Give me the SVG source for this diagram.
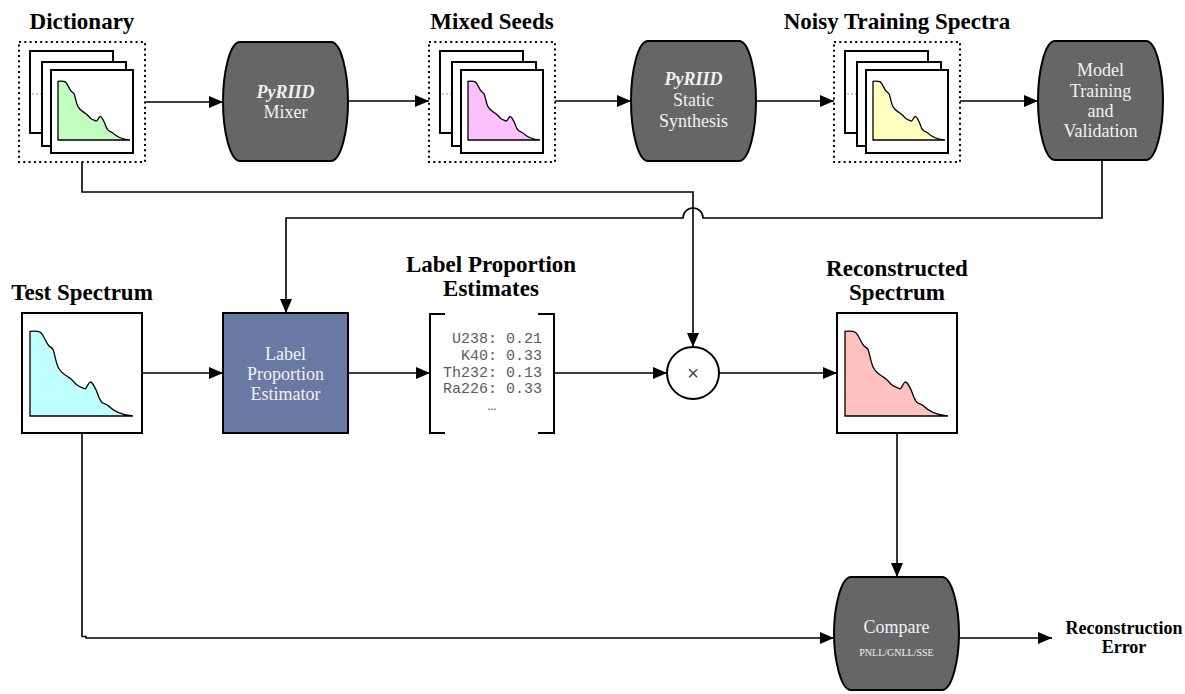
<svg xmlns="http://www.w3.org/2000/svg" width="1185" height="694" viewBox="0 0 1185 694">
  <style>
    .title { font-family: "Liberation Serif", serif; font-weight: bold; font-size: 23px; fill: #000; text-anchor: middle; }
    .out { font-family: "Liberation Serif", serif; font-weight: bold; font-size: 18px; fill: #000; text-anchor: middle; }
    .lbl { font-family: "Liberation Serif", serif; font-size: 18px; fill: #f2f2f2; text-anchor: middle; }
    .lbl-b { font-family: "Liberation Serif", serif; font-size: 18px; font-weight: bold; font-style: italic; fill: #f2f2f2; text-anchor: middle; }
    .small { font-family: "Liberation Serif", serif; font-size: 10px; fill: #f2f2f2; text-anchor: middle; }
    .mono { font-family: "Liberation Mono", monospace; font-size: 15px; fill: #5c5c5c; text-anchor: end; }
    .proc { fill: #666666; stroke: #000; stroke-width: 2; }
    .card { fill: #fff; stroke: #000; stroke-width: 2; }
    .group { fill: none; stroke: #000; stroke-width: 2; stroke-dasharray: 2 3.3; }
    .hint { stroke: #999; stroke-width: 1; stroke-dasharray: 2 2; }
    .plot { stroke: #000; stroke-width: 1.3; }
    .wire { fill: none; stroke: #000; stroke-width: 1.6; }
  </style>
  <defs>
    <marker id="arrow" markerWidth="14" markerHeight="12" refX="14" refY="6" orient="auto" markerUnits="userSpaceOnUse">
      <path d="M0,0 L14,6 L0,12 Z" fill="#000"/>
    </marker>
    <!-- spectrum outline in a 100x100 box, scaled per use -->
    <path id="spec" vector-effect="non-scaling-stroke" d="M0,100 L0,0.5 C3,0 7,-0.5 10,1.5 C13,4 15,12 17.5,16 C19,19 21,19 22.5,22 C24,27 25,37 27.5,43 C30,49 33,51 37,54 C40,56 42,59 45,63 C48,66 50,66 53,68 C55,69 56,61 58.5,60 C61,60 62,65 64,69 C66,74 67,81 70,84 C72,86 74,85.5 76,88 C80,93 88,99 100,100 Z"/>
  </defs>

  <!-- connectors -->
  <g id="connectors" class="wire">
    <path d="M145,102 H223" marker-end="url(#arrow)"/>
    <path d="M348,101 H429" marker-end="url(#arrow)"/>
    <path d="M555,101 H631" marker-end="url(#arrow)"/>
    <path d="M756,101 H834" marker-end="url(#arrow)"/>
    <path d="M960,101 H1038" marker-end="url(#arrow)"/>
    <path d="M82,162 V192 H693 V347" marker-end="url(#arrow)"/>
    <path d="M1102,160 V218 H703 A10,10 0 0 0 683,218 H286 V313" marker-end="url(#arrow)"/>
    <path d="M142,373 H223" marker-end="url(#arrow)"/>
    <path d="M348,373 H430" marker-end="url(#arrow)"/>
    <path d="M554,373 H667" marker-end="url(#arrow)"/>
    <path d="M719,373 H837" marker-end="url(#arrow)"/>
    <path d="M897,433 V577" marker-end="url(#arrow)"/>
    <path d="M82,433 V636.5 H86 V638 H834" marker-end="url(#arrow)"/>
    <path d="M959,638 H1052" marker-end="url(#arrow)"/>
  </g>

  <!-- Dictionary stack -->
  <g id="dictionary">
    <text class="title" x="82" y="29">Dictionary</text>
    <g transform="translate(19,0)">
      <rect class="group" x="0" y="42" width="126" height="120"/>
      <rect class="card" x="11" y="51" width="83" height="82"/>
      <line class="hint" x1="13" y1="94" x2="23" y2="94"/>
      <rect class="card" x="23" y="62" width="84" height="84"/>
      <rect class="card" x="32" y="70" width="82" height="83"/>
      <use href="#spec" class="plot" fill="#c0ffc0" transform="translate(39,81) scale(0.72,0.59)"/>
    </g>
  </g>

  <!-- PyRIID Mixer -->
  <g id="mixer">
    <path class="proc" d="M240,42 H331 C341,42 348,72 348,101.5 C348,131 341,161 331,161 H240 C230,161 223,131 223,101.5 C223,72 230,42 240,42 Z"/>
    <text class="lbl-b" x="285.5" y="98">PyRIID</text>
    <text class="lbl" x="285.5" y="118">Mixer</text>
  </g>

  <!-- Mixed Seeds stack -->
  <g id="mixed-seeds">
    <text class="title" x="492" y="29">Mixed Seeds</text>
    <g transform="translate(429,0)">
      <rect class="group" x="0" y="42" width="126" height="120"/>
      <rect class="card" x="11" y="51" width="83" height="82"/>
      <line class="hint" x1="13" y1="94" x2="23" y2="94"/>
      <rect class="card" x="23" y="62" width="84" height="84"/>
      <rect class="card" x="32" y="70" width="82" height="83"/>
      <use href="#spec" class="plot" fill="#ffc0ff" transform="translate(39,81) scale(0.72,0.59)"/>
    </g>
  </g>

  <!-- PyRIID Static Synthesis -->
  <g id="static-synthesis">
    <path class="proc" d="M648,41 H739 C749,41 756,71 756,101 C756,131 749,161 739,161 H648 C638,161 631,131 631,101 C631,71 638,41 648,41 Z"/>
    <text class="lbl-b" x="693.5" y="85">PyRIID</text>
    <text class="lbl" x="693.5" y="106">Static</text>
    <text class="lbl" x="693.5" y="127">Synthesis</text>
  </g>

  <!-- Noisy Training Spectra stack -->
  <g id="noisy-training">
    <text class="title" x="897" y="29">Noisy Training Spectra</text>
    <g transform="translate(834,0)">
      <rect class="group" x="0" y="42" width="126" height="120"/>
      <rect class="card" x="11" y="51" width="83" height="82"/>
      <line class="hint" x1="13" y1="94" x2="23" y2="94"/>
      <rect class="card" x="23" y="62" width="84" height="84"/>
      <rect class="card" x="32" y="70" width="82" height="83"/>
      <use href="#spec" class="plot" fill="#ffffc0" transform="translate(39,81) scale(0.72,0.59)"/>
    </g>
  </g>

  <!-- Model Training and Validation -->
  <g id="model-training">
    <path class="proc" d="M1055,41 H1146 C1156,41 1163,71 1163,100.5 C1163,130 1156,160 1146,160 H1055 C1045,160 1038,130 1038,100.5 C1038,71 1045,41 1055,41 Z"/>
    <text class="lbl" x="1100.5" y="76">Model</text>
    <text class="lbl" x="1100.5" y="97">Training</text>
    <text class="lbl" x="1100.5" y="117">and</text>
    <text class="lbl" x="1100.5" y="137">Validation</text>
  </g>

  <!-- Test Spectrum -->
  <g id="test-spectrum">
    <text class="title" x="82" y="300">Test Spectrum</text>
    <rect class="card" x="22" y="313" width="120" height="120"/>
    <use href="#spec" class="plot" fill="#c0ffff" transform="translate(30,331) scale(1.03,0.85)"/>
  </g>

  <!-- Label Proportion Estimator -->
  <g id="estimator">
    <rect x="223" y="313" width="125" height="120" fill="#6979a3" stroke="#000" stroke-width="2"/>
    <text class="lbl" x="285.5" y="360">Label</text>
    <text class="lbl" x="285.5" y="380">Proportion</text>
    <text class="lbl" x="285.5" y="400">Estimator</text>
  </g>

  <!-- Label Proportion Estimates -->
  <g id="estimates">
    <text class="title" x="491" y="272">Label Proportion</text>
    <text class="title" x="491" y="296">Estimates</text>
    <path d="M445,314 H430 V433 H445 M538,314 H554 V433 H538" fill="none" stroke="#000" stroke-width="2"/>
    <text class="mono" x="542" y="343">U238: 0.21</text>
    <text class="mono" x="542" y="360">K40: 0.33</text>
    <text class="mono" x="542" y="377">Th232: 0.13</text>
    <text class="mono" x="542" y="393">Ra226: 0.33</text>
    <text class="mono" x="492" y="410" style="text-anchor: middle">…</text>
  </g>

  <!-- Multiply -->
  <g id="multiply">
    <circle cx="693" cy="373" r="26" fill="#fff" stroke="#000" stroke-width="2"/>
    <text x="693" y="380" font-family="Liberation Sans, sans-serif" font-size="20" fill="#444" text-anchor="middle">×</text>
  </g>

  <!-- Reconstructed Spectrum -->
  <g id="reconstructed">
    <text class="title" x="897" y="276">Reconstructed</text>
    <text class="title" x="897" y="300">Spectrum</text>
    <rect class="card" x="837" y="313" width="120" height="120"/>
    <use href="#spec" class="plot" fill="#ffc0c0" transform="translate(845,331) scale(1.03,0.85)"/>
  </g>

  <!-- Compare -->
  <g id="compare">
    <path class="proc" d="M851,577 H942 C952,577 959,607 959,633.5 C959,660 952,690 942,690 H851 C841,690 834,660 834,633.5 C834,607 841,577 851,577 Z"/>
    <text class="lbl" x="896.5" y="633">Compare</text>
    <text class="small" x="896.5" y="656">PNLL/GNLL/SSE</text>
  </g>

  <!-- Reconstruction Error -->
  <g id="reconstruction-error">
    <text class="out" x="1124" y="634">Reconstruction</text>
    <text class="out" x="1124" y="653">Error</text>
  </g>
</svg>
